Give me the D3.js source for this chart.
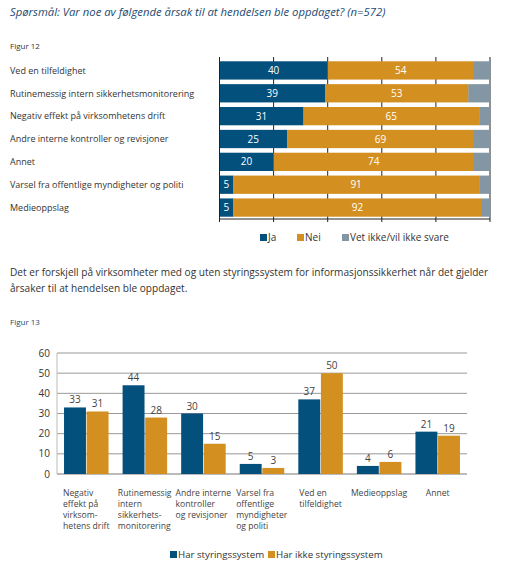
<!DOCTYPE html>
<html><head><meta charset="utf-8">
<script src="https://cdn.jsdelivr.net/npm/d3@7"></script>
<style>body{margin:0;background:#fff}svg{display:block;font-family:"Open Sans",sans-serif}</style>
</head><body><svg id="c" width="506" height="586"></svg>
<script>
// Figure 12 data
const cats1 = ["Ved en tilfeldighet","Rutinemessig intern sikkerhetsmonitorering","Negativ effekt på virksomhetens drift","Andre interne kontroller og revisjoner","Annet","Varsel fra offentlige myndigheter og politi","Medieoppslag"];
const ja = [40,39,31,25,20,5,5];
const nei = [54,53,65,69,74,91,92];
const vet = [6,8,4,6,6,4,3];
const series1 = ["Ja","Nei","Vet ikke/vil ikke svare"];
const xTicks1 = [0,20,40,60,80,100];
// Figure 13 data
const cats2 = [["Negativ","effekt på","virksom-","hetens drift"],["Rutinemessig","intern","sikkerhets-","monitorering"],["Andre interne","kontroller","og revisjoner"],["Varsel fra","offentlige","myndigheter","og politi"],["Ved en","tilfeldighet"],["Medieoppslag"],["Annet"]];
const har = [33,44,30,5,37,4,21];
const harIkke = [31,28,15,3,50,6,19];
const series2 = ["Har styringssystem","Har ikke styringssystem"];
const yTicks2 = [0,10,20,30,40,50,60];

const BLUE="#03507c", ORANGE="#d39020", GRAY="#8396a3", NAVY="#1d4a72";
const svg = d3.select("#c");

svg.append("text").attr("x",10).attr("y",16).attr("fill",NAVY).attr("font-style","italic")
  .attr("font-size",11.3).text("Spørsmål: Var noe av følgende årsak til at hendelsen ble oppdaget? (n=572)");
svg.append("text").attr("x",10).attr("y",49).attr("fill","#333").attr("font-size",8).text("Figur 12");

// ---- Chart 1
const x1 = d3.scaleLinear().domain([0,100]).range([219.5,490]);
const y1 = d3.scaleBand().domain(cats1).range([59,219]).paddingInner(0.2).paddingOuter(0.1);
const g1 = svg.append("g");
g1.selectAll("line.grid").data(xTicks1.slice(1)).join("line")
  .attr("x1",d=>x1(d)).attr("x2",d=>x1(d)).attr("y1",57).attr("y2",219).attr("stroke","#222").attr("stroke-width",1);
const rows = cats1.map((c,i)=>{const v=[ja[i],nei[i],vet[i]];let acc=0;return v.map((d,k)=>{const s=acc;acc+=d;return {c,k,v:d,s,e:acc};});}).flat();
g1.selectAll("rect.seg").data(rows).join("rect")
  .attr("x",d=>x1(d.s)).attr("width",d=>x1(d.e)-x1(d.s)+0.3)
  .attr("y",d=>y1(d.c)).attr("height",y1.bandwidth())
  .attr("fill",d=>[BLUE,ORANGE,GRAY][d.k]);
g1.selectAll("text.val").data(rows.filter(d=>d.k<2)).join("text")
  .attr("x",d=>(x1(d.s)+x1(d.e))/2).attr("y",d=>y1(d.c)+y1.bandwidth()/2+3.6)
  .attr("text-anchor","middle").attr("fill","#fff").attr("font-size",10).text(d=>d.v);
g1.selectAll("text.lab").data(cats1).join("text")
  .attr("x",10).attr("y",d=>y1(d)+y1.bandwidth()/2+3.3).attr("fill","#333").attr("font-size",9).text(d=>d);
g1.append("line").attr("x1",x1(0)).attr("x2",x1(0)).attr("y1",57).attr("y2",219).attr("stroke","#222");
g1.append("line").attr("x1",x1(0)).attr("x2",x1(100)).attr("y1",219).attr("y2",219).attr("stroke","#222");
g1.selectAll("line.tk").data(xTicks1).join("line")
  .attr("x1",d=>x1(d)).attr("x2",d=>x1(d)).attr("y1",219).attr("y2",222).attr("stroke","#222");
const leg1x=[260,297,342];
series1.forEach((s,i)=>{
  svg.append("rect").attr("x",leg1x[i]).attr("y",234).attr("width",7).attr("height",7).attr("fill",[BLUE,ORANGE,GRAY][i]);
  svg.append("text").attr("x",leg1x[i]+8).attr("y",241).attr("font-size",10).attr("fill","#333").text(s);
});

// paragraph
svg.append("text").attr("x",10).attr("y",276).attr("font-size",10.1).attr("fill","#333")
  .text("Det er forskjell på virksomheter med og uten styringssystem for informasjonssikkerhet når det gjelder");
svg.append("text").attr("x",10).attr("y",292).attr("font-size",10.1).attr("fill","#333")
  .text("årsaker til at hendelsen ble oppdaget.");
svg.append("text").attr("x",10).attr("y",325).attr("fill",NAVY).attr("font-size",8).text("Figur 13");

// ---- Chart 2
const keys2 = cats2.map(d=>d.join(" "));
const x0 = d3.scaleBand().domain(keys2).range([57,467]);
const xs = d3.scaleBand().domain([0,1]).range([x0.bandwidth()*0.12,x0.bandwidth()*0.88]).paddingInner(0.03);
const y2 = d3.scaleLinear().domain([0,60]).range([474,353]);
const g2 = svg.append("g");
g2.selectAll("line.gr").data(yTicks2).join("line")
  .attr("x1",57).attr("x2",467).attr("y1",d=>y2(d)).attr("y2",d=>y2(d))
  .attr("stroke",d=>d===0?"#777":"#999").attr("stroke-width",1);
g2.append("line").attr("x1",57).attr("x2",57).attr("y1",y2(60)).attr("y2",y2(0)).attr("stroke","#bbb");
g2.selectAll("text.yt").data(yTicks2).join("text")
  .attr("x",50).attr("y",d=>y2(d)+3.5).attr("text-anchor","end").attr("font-size",10).attr("fill","#333").text(d=>d);
const bars2 = keys2.map((k,i)=>[{k,s:0,v:har[i]},{k,s:1,v:harIkke[i]}]).flat();
g2.selectAll("rect.b").data(bars2).join("rect")
  .attr("x",d=>x0(d.k)+xs(d.s)).attr("width",xs.bandwidth())
  .attr("y",d=>y2(d.v)).attr("height",d=>y2(0)-y2(d.v)).attr("fill",d=>d.s?ORANGE:BLUE);
g2.selectAll("text.v").data(bars2).join("text")
  .attr("x",d=>x0(d.k)+xs(d.s)+xs.bandwidth()/2).attr("y",d=>y2(d.v)-4)
  .attr("text-anchor","middle").attr("font-size",10).attr("fill","#444").text(d=>d.v);
cats2.forEach((lines,i)=>{
  const t = g2.append("text").attr("font-size",8.6).attr("fill","#444");
  lines.forEach((l,j)=>t.append("tspan").attr("x",0).attr("y",496+j*11).text(l));
  const w = t.node().getBBox().width;
  const cx = x0(keys2[i])+x0.bandwidth()/2;
  t.selectAll("tspan").attr("x",cx-w/2);
});
const leg2x=[170,268];
series2.forEach((s,i)=>{
  svg.append("rect").attr("x",leg2x[i]).attr("y",551).attr("width",7).attr("height",7).attr("fill",[BLUE,ORANGE][i]);
  svg.append("text").attr("x",leg2x[i]+8).attr("y",558).attr("font-size",9.7).attr("fill","#333").text(s);
});
</script></body></html>
